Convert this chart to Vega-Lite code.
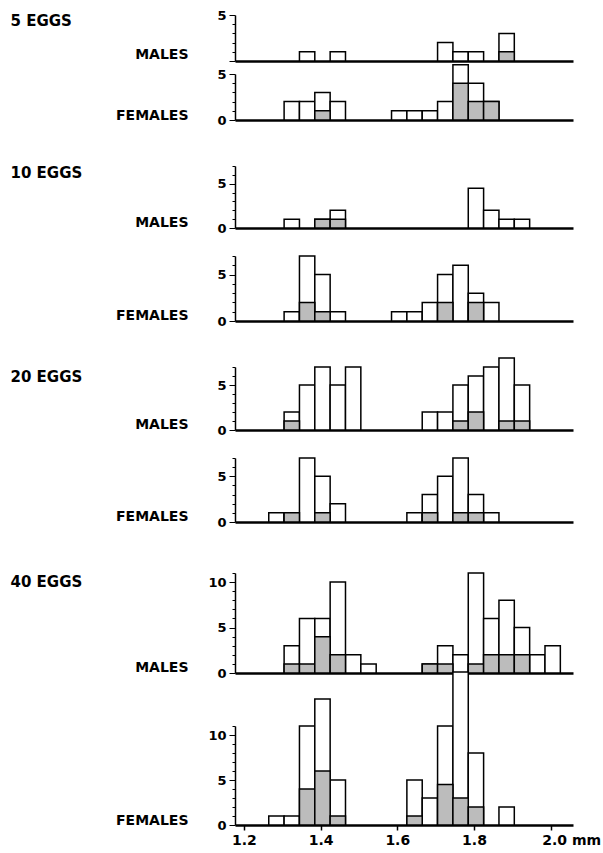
{
  "$schema": "https://vega.github.io/schema/vega-lite/v6.json",
  "padding": {"left": 10, "top": 9, "right": 2, "bottom": 2},
  "background": "white",
  "config": {
    "view": {"stroke": null},
    "font": "DejaVu Sans",
    "axis": {"grid": false, "domainColor": "black", "tickColor": "black", "labelColor": "black", "labelFont": "DejaVu Sans", "labelFontWeight": "bold", "labelFontSize": 13, "titleFont": "DejaVu Sans", "titleFontWeight": "bold", "titleFontSize": 14, "titleColor": "black"}
  },
  "datasets": {
    "h": [
      {"p": "5M", "lo": 1.345, "hi": 1.385, "n": 1, "s": 0},
      {"p": "5M", "lo": 1.425, "hi": 1.465, "n": 1, "s": 0},
      {"p": "5M", "lo": 1.705, "hi": 1.745, "n": 2, "s": 0},
      {"p": "5M", "lo": 1.745, "hi": 1.785, "n": 1, "s": 0},
      {"p": "5M", "lo": 1.785, "hi": 1.825, "n": 1, "s": 0},
      {"p": "5M", "lo": 1.865, "hi": 1.905, "n": 3, "s": 1},
      {"p": "5F", "lo": 1.305, "hi": 1.345, "n": 2, "s": 0},
      {"p": "5F", "lo": 1.345, "hi": 1.385, "n": 2, "s": 0},
      {"p": "5F", "lo": 1.385, "hi": 1.425, "n": 3, "s": 1},
      {"p": "5F", "lo": 1.425, "hi": 1.465, "n": 2, "s": 0},
      {"p": "5F", "lo": 1.585, "hi": 1.625, "n": 1, "s": 0},
      {"p": "5F", "lo": 1.625, "hi": 1.665, "n": 1, "s": 0},
      {"p": "5F", "lo": 1.665, "hi": 1.705, "n": 1, "s": 0},
      {"p": "5F", "lo": 1.705, "hi": 1.745, "n": 2, "s": 0},
      {"p": "5F", "lo": 1.745, "hi": 1.785, "n": 6, "s": 4},
      {"p": "5F", "lo": 1.785, "hi": 1.825, "n": 4, "s": 2},
      {"p": "5F", "lo": 1.825, "hi": 1.865, "n": 2, "s": 2},
      {"p": "10M", "lo": 1.305, "hi": 1.345, "n": 1, "s": 0},
      {"p": "10M", "lo": 1.385, "hi": 1.425, "n": 1, "s": 1},
      {"p": "10M", "lo": 1.425, "hi": 1.465, "n": 2, "s": 1},
      {"p": "10M", "lo": 1.785, "hi": 1.825, "n": 4.5, "s": 0},
      {"p": "10M", "lo": 1.825, "hi": 1.865, "n": 2, "s": 0},
      {"p": "10M", "lo": 1.865, "hi": 1.905, "n": 1, "s": 0},
      {"p": "10M", "lo": 1.905, "hi": 1.945, "n": 1, "s": 0},
      {"p": "10F", "lo": 1.305, "hi": 1.345, "n": 1, "s": 0},
      {"p": "10F", "lo": 1.345, "hi": 1.385, "n": 7, "s": 2},
      {"p": "10F", "lo": 1.385, "hi": 1.425, "n": 5, "s": 1},
      {"p": "10F", "lo": 1.425, "hi": 1.465, "n": 1, "s": 0},
      {"p": "10F", "lo": 1.585, "hi": 1.625, "n": 1, "s": 0},
      {"p": "10F", "lo": 1.625, "hi": 1.665, "n": 1, "s": 0},
      {"p": "10F", "lo": 1.665, "hi": 1.705, "n": 2, "s": 0},
      {"p": "10F", "lo": 1.705, "hi": 1.745, "n": 5, "s": 2},
      {"p": "10F", "lo": 1.745, "hi": 1.785, "n": 6, "s": 0},
      {"p": "10F", "lo": 1.785, "hi": 1.825, "n": 3, "s": 2},
      {"p": "10F", "lo": 1.825, "hi": 1.865, "n": 2, "s": 0},
      {"p": "20M", "lo": 1.305, "hi": 1.345, "n": 2, "s": 1},
      {"p": "20M", "lo": 1.345, "hi": 1.385, "n": 5, "s": 0},
      {"p": "20M", "lo": 1.385, "hi": 1.425, "n": 7, "s": 0},
      {"p": "20M", "lo": 1.425, "hi": 1.465, "n": 5, "s": 0},
      {"p": "20M", "lo": 1.465, "hi": 1.505, "n": 7, "s": 0},
      {"p": "20M", "lo": 1.665, "hi": 1.705, "n": 2, "s": 0},
      {"p": "20M", "lo": 1.705, "hi": 1.745, "n": 2, "s": 0},
      {"p": "20M", "lo": 1.745, "hi": 1.785, "n": 5, "s": 1},
      {"p": "20M", "lo": 1.785, "hi": 1.825, "n": 6, "s": 2},
      {"p": "20M", "lo": 1.825, "hi": 1.865, "n": 7, "s": 0},
      {"p": "20M", "lo": 1.865, "hi": 1.905, "n": 8, "s": 1},
      {"p": "20M", "lo": 1.905, "hi": 1.945, "n": 5, "s": 1},
      {"p": "20F", "lo": 1.265, "hi": 1.305, "n": 1, "s": 0},
      {"p": "20F", "lo": 1.305, "hi": 1.345, "n": 1, "s": 1},
      {"p": "20F", "lo": 1.345, "hi": 1.385, "n": 7, "s": 0},
      {"p": "20F", "lo": 1.385, "hi": 1.425, "n": 5, "s": 1},
      {"p": "20F", "lo": 1.425, "hi": 1.465, "n": 2, "s": 0},
      {"p": "20F", "lo": 1.625, "hi": 1.665, "n": 1, "s": 0},
      {"p": "20F", "lo": 1.665, "hi": 1.705, "n": 3, "s": 1},
      {"p": "20F", "lo": 1.705, "hi": 1.745, "n": 5, "s": 0},
      {"p": "20F", "lo": 1.745, "hi": 1.785, "n": 7, "s": 1},
      {"p": "20F", "lo": 1.785, "hi": 1.825, "n": 3, "s": 1},
      {"p": "20F", "lo": 1.825, "hi": 1.865, "n": 1, "s": 0},
      {"p": "40M", "lo": 1.305, "hi": 1.345, "n": 3, "s": 1},
      {"p": "40M", "lo": 1.345, "hi": 1.385, "n": 6, "s": 1},
      {"p": "40M", "lo": 1.385, "hi": 1.425, "n": 6, "s": 4},
      {"p": "40M", "lo": 1.425, "hi": 1.465, "n": 10, "s": 2},
      {"p": "40M", "lo": 1.465, "hi": 1.505, "n": 2, "s": 0},
      {"p": "40M", "lo": 1.505, "hi": 1.545, "n": 1, "s": 0},
      {"p": "40M", "lo": 1.665, "hi": 1.705, "n": 1, "s": 1},
      {"p": "40M", "lo": 1.705, "hi": 1.745, "n": 3, "s": 1},
      {"p": "40M", "lo": 1.745, "hi": 1.785, "n": 2, "s": 0},
      {"p": "40M", "lo": 1.785, "hi": 1.825, "n": 11, "s": 1},
      {"p": "40M", "lo": 1.825, "hi": 1.865, "n": 6, "s": 2},
      {"p": "40M", "lo": 1.865, "hi": 1.905, "n": 8, "s": 2},
      {"p": "40M", "lo": 1.905, "hi": 1.945, "n": 5, "s": 2},
      {"p": "40M", "lo": 1.945, "hi": 1.985, "n": 2, "s": 0},
      {"p": "40M", "lo": 1.985, "hi": 2.025, "n": 3, "s": 0},
      {"p": "40F", "lo": 1.265, "hi": 1.305, "n": 1, "s": 0},
      {"p": "40F", "lo": 1.305, "hi": 1.345, "n": 1, "s": 0},
      {"p": "40F", "lo": 1.345, "hi": 1.385, "n": 11, "s": 4},
      {"p": "40F", "lo": 1.385, "hi": 1.425, "n": 14, "s": 6},
      {"p": "40F", "lo": 1.425, "hi": 1.465, "n": 5, "s": 1},
      {"p": "40F", "lo": 1.625, "hi": 1.665, "n": 5, "s": 1},
      {"p": "40F", "lo": 1.665, "hi": 1.705, "n": 3, "s": 0},
      {"p": "40F", "lo": 1.705, "hi": 1.745, "n": 11, "s": 4.5},
      {"p": "40F", "lo": 1.745, "hi": 1.785, "n": 17, "s": 3},
      {"p": "40F", "lo": 1.785, "hi": 1.825, "n": 8, "s": 2},
      {"p": "40F", "lo": 1.865, "hi": 1.905, "n": 2, "s": 0}
    ]
  },
  "spacing": 29,
  "vconcat": [
    {
      "spacing": 38,
      "vconcat": [
        {
          "spacing": 13,
          "bounds": "flush",
          "vconcat": [
            {
              "width": 338, "height": 46,
              "data": {"name": "h"},
              "transform": [{"filter": "datum.p == '5M'"}],
              "encoding": {
                "x": {"field": "lo", "type": "quantitative", "scale": {"domain": [1.177, 2.058], "nice": false, "zero": false}, "axis": {"labels": false, "ticks": false, "title": null, "domainWidth": 2.5}},
                "x2": {"field": "hi"},
                "y": {"field": "n", "type": "quantitative", "scale": {"domain": [0, 5], "nice": false}, "axis": {"values": [0, 1, 2, 3, 4, 5], "labelExpr": "datum.value == 5 ? '5' : ''", "tickSize": {"condition": {"test": "datum.value % 5 == 0", "value": 6}, "value": 3}, "labelPadding": 3, "domainWidth": 1.5, "title": "MALES", "titleAngle": 0, "titleAlign": "right", "titleBaseline": "alphabetic", "titleX": -47, "titleY": 43}},
                "y2": {"datum": 0}
              },
              "resolve": {"axis": {"y": "independent"}},
              "layer": [
                {"mark": {"type": "bar", "fill": "white", "stroke": "black", "strokeWidth": 1.5}},
                {"transform": [{"filter": "datum.s > 0"}],
                 "mark": {"type": "bar", "fill": "#bcbcbc", "stroke": "black", "strokeWidth": 1.5},
                 "encoding": {"y": {"field": "s", "type": "quantitative", "axis": {"orient": "left", "title": "5 EGGS", "domain": false, "ticks": false, "labels": false, "titleAngle": 0, "titleAlign": "left", "titleBaseline": "middle", "titleFontSize": 15, "titleX": -225, "titleY": 5}}}}
              ]
            },
            {
              "width": 338, "height": 46,
              "data": {"name": "h"},
              "transform": [{"filter": "datum.p == '5F'"}],
              "encoding": {
                "x": {"field": "lo", "type": "quantitative", "scale": {"domain": [1.177, 2.058], "nice": false, "zero": false}, "axis": {"labels": false, "ticks": false, "title": null, "domainWidth": 2.5}},
                "x2": {"field": "hi"},
                "y": {"field": "n", "type": "quantitative", "scale": {"domain": [0, 5], "nice": false}, "axis": {"values": [0, 1, 2, 3, 4, 5], "labelExpr": "datum.value % 5 == 0 ? datum.label : ''", "tickSize": {"condition": {"test": "datum.value % 5 == 0", "value": 6}, "value": 3}, "labelPadding": 3, "domainWidth": 1.5, "title": "FEMALES", "titleAngle": 0, "titleAlign": "right", "titleBaseline": "alphabetic", "titleX": -47, "titleY": 45}},
                "y2": {"datum": 0}
              },
              "layer": [
                {"mark": {"type": "bar", "fill": "white", "stroke": "black", "strokeWidth": 1.5}},
                {"transform": [{"filter": "datum.s > 0"}],
                 "mark": {"type": "bar", "fill": "#bcbcbc", "stroke": "black", "strokeWidth": 1.5},
                 "encoding": {"y": {"field": "s", "type": "quantitative"}}}
              ]
            }
          ]
        },
        {
          "spacing": 28,
          "bounds": "flush",
          "vconcat": [
            {
              "width": 338, "height": 62,
              "data": {"name": "h"},
              "transform": [{"filter": "datum.p == '10M'"}],
              "encoding": {
                "x": {"field": "lo", "type": "quantitative", "scale": {"domain": [1.177, 2.058], "nice": false, "zero": false}, "axis": {"labels": false, "ticks": false, "title": null, "domainWidth": 2.5}},
                "x2": {"field": "hi"},
                "y": {"field": "n", "type": "quantitative", "scale": {"domain": [0, 7], "nice": false}, "axis": {"values": [0, 1, 2, 3, 4, 5, 6, 7], "labelExpr": "datum.value % 5 == 0 ? datum.label : ''", "tickSize": {"condition": {"test": "datum.value % 5 == 0", "value": 6}, "value": 3}, "labelPadding": 3, "domainWidth": 1.5, "title": "MALES", "titleAngle": 0, "titleAlign": "right", "titleBaseline": "alphabetic", "titleX": -47, "titleY": 60}},
                "y2": {"datum": 0}
              },
              "resolve": {"axis": {"y": "independent"}},
              "layer": [
                {"mark": {"type": "bar", "fill": "white", "stroke": "black", "strokeWidth": 1.5}},
                {"transform": [{"filter": "datum.s > 0"}],
                 "mark": {"type": "bar", "fill": "#bcbcbc", "stroke": "black", "strokeWidth": 1.5},
                 "encoding": {"y": {"field": "s", "type": "quantitative", "axis": {"orient": "left", "title": "10 EGGS", "domain": false, "ticks": false, "labels": false, "titleAngle": 0, "titleAlign": "left", "titleBaseline": "middle", "titleFontSize": 15, "titleX": -225, "titleY": 6}}}}
              ]
            },
            {
              "width": 338, "height": 65,
              "data": {"name": "h"},
              "transform": [{"filter": "datum.p == '10F'"}],
              "encoding": {
                "x": {"field": "lo", "type": "quantitative", "scale": {"domain": [1.177, 2.058], "nice": false, "zero": false}, "axis": {"labels": false, "ticks": false, "title": null, "domainWidth": 2.5}},
                "x2": {"field": "hi"},
                "y": {"field": "n", "type": "quantitative", "scale": {"domain": [0, 7], "nice": false}, "axis": {"values": [0, 1, 2, 3, 4, 5, 6, 7], "labelExpr": "datum.value % 5 == 0 ? datum.label : ''", "tickSize": {"condition": {"test": "datum.value % 5 == 0", "value": 6}, "value": 3}, "labelPadding": 3, "domainWidth": 1.5, "title": "FEMALES", "titleAngle": 0, "titleAlign": "right", "titleBaseline": "alphabetic", "titleX": -47, "titleY": 63}},
                "y2": {"datum": 0}
              },
              "layer": [
                {"mark": {"type": "bar", "fill": "white", "stroke": "black", "strokeWidth": 1.5}},
                {"transform": [{"filter": "datum.s > 0"}],
                 "mark": {"type": "bar", "fill": "#bcbcbc", "stroke": "black", "strokeWidth": 1.5},
                 "encoding": {"y": {"field": "s", "type": "quantitative"}}}
              ]
            }
          ]
        }
      ]
    },
    {
      "spacing": 43,
      "vconcat": [
        {
          "spacing": 28,
          "bounds": "flush",
          "vconcat": [
            {
              "width": 338, "height": 63,
              "data": {"name": "h"},
              "transform": [{"filter": "datum.p == '20M'"}],
              "encoding": {
                "x": {"field": "lo", "type": "quantitative", "scale": {"domain": [1.177, 2.058], "nice": false, "zero": false}, "axis": {"labels": false, "ticks": false, "title": null, "domainWidth": 2.5}},
                "x2": {"field": "hi"},
                "y": {"field": "n", "type": "quantitative", "scale": {"domain": [0, 7], "nice": false}, "axis": {"values": [0, 1, 2, 3, 4, 5, 6, 7], "labelExpr": "datum.value % 5 == 0 ? datum.label : ''", "tickSize": {"condition": {"test": "datum.value % 5 == 0", "value": 6}, "value": 3}, "labelPadding": 3, "domainWidth": 1.5, "title": "MALES", "titleAngle": 0, "titleAlign": "right", "titleBaseline": "alphabetic", "titleX": -47, "titleY": 61}},
                "y2": {"datum": 0}
              },
              "resolve": {"axis": {"y": "independent"}},
              "layer": [
                {"mark": {"type": "bar", "fill": "white", "stroke": "black", "strokeWidth": 1.5}},
                {"transform": [{"filter": "datum.s > 0"}],
                 "mark": {"type": "bar", "fill": "#bcbcbc", "stroke": "black", "strokeWidth": 1.5},
                 "encoding": {"y": {"field": "s", "type": "quantitative", "axis": {"orient": "left", "title": "20 EGGS", "domain": false, "ticks": false, "labels": false, "titleAngle": 0, "titleAlign": "left", "titleBaseline": "middle", "titleFontSize": 15, "titleX": -225, "titleY": 9}}}}
              ]
            },
            {
              "width": 338, "height": 64,
              "data": {"name": "h"},
              "transform": [{"filter": "datum.p == '20F'"}],
              "encoding": {
                "x": {"field": "lo", "type": "quantitative", "scale": {"domain": [1.177, 2.058], "nice": false, "zero": false}, "axis": {"labels": false, "ticks": false, "title": null, "domainWidth": 2.5}},
                "x2": {"field": "hi"},
                "y": {"field": "n", "type": "quantitative", "scale": {"domain": [0, 7], "nice": false}, "axis": {"values": [0, 1, 2, 3, 4, 5, 6, 7], "labelExpr": "datum.value % 5 == 0 ? datum.label : ''", "tickSize": {"condition": {"test": "datum.value % 5 == 0", "value": 6}, "value": 3}, "labelPadding": 3, "domainWidth": 1.5, "title": "FEMALES", "titleAngle": 0, "titleAlign": "right", "titleBaseline": "alphabetic", "titleX": -47, "titleY": 62}},
                "y2": {"datum": 0}
              },
              "layer": [
                {"mark": {"type": "bar", "fill": "white", "stroke": "black", "strokeWidth": 1.5}},
                {"transform": [{"filter": "datum.s > 0"}],
                 "mark": {"type": "bar", "fill": "#bcbcbc", "stroke": "black", "strokeWidth": 1.5},
                 "encoding": {"y": {"field": "s", "type": "quantitative"}}}
              ]
            }
          ]
        },
        {
          "spacing": 53,
          "bounds": "flush",
          "vconcat": [
            {
              "width": 338, "height": 100,
              "data": {"name": "h"},
              "transform": [{"filter": "datum.p == '40M'"}],
              "encoding": {
                "x": {"field": "lo", "type": "quantitative", "scale": {"domain": [1.177, 2.058], "nice": false, "zero": false}, "axis": {"labels": false, "ticks": false, "title": null, "domainWidth": 2.5}},
                "x2": {"field": "hi"},
                "y": {"field": "n", "type": "quantitative", "scale": {"domain": [0, 11], "nice": false}, "axis": {"values": [0, 1, 2, 3, 4, 5, 6, 7, 8, 9, 10, 11], "labelExpr": "datum.value % 5 == 0 ? datum.label : ''", "tickSize": {"condition": {"test": "datum.value % 5 == 0", "value": 6}, "value": 3}, "labelPadding": 3, "domainWidth": 1.5, "title": "MALES", "titleAngle": 0, "titleAlign": "right", "titleBaseline": "alphabetic", "titleX": -47, "titleY": 98}},
                "y2": {"datum": 0}
              },
              "resolve": {"axis": {"y": "independent"}},
              "layer": [
                {"mark": {"type": "bar", "fill": "white", "stroke": "black", "strokeWidth": 1.5}},
                {"transform": [{"filter": "datum.s > 0"}],
                 "mark": {"type": "bar", "fill": "#bcbcbc", "stroke": "black", "strokeWidth": 1.5},
                 "encoding": {"y": {"field": "s", "type": "quantitative", "axis": {"orient": "left", "title": "40 EGGS", "domain": false, "ticks": false, "labels": false, "titleAngle": 0, "titleAlign": "left", "titleBaseline": "middle", "titleFontSize": 15, "titleX": -225, "titleY": 8}}}}
              ]
            },
            {
              "width": 338, "height": 99,
              "data": {"name": "h"},
              "transform": [{"filter": "datum.p == '40F'"}],
              "encoding": {
                "x": {"field": "lo", "type": "quantitative", "scale": {"domain": [1.177, 2.058], "nice": false, "zero": false}, "axis": {"values": [1.2, 1.4, 1.6, 1.8, 2.0], "title": null, "domainWidth": 2.5, "tickSize": 5, "tickWidth": 1.5, "labelPadding": 3, "labelFontSize": 14, "labelExpr": "datum.value == 2 ? '2.0 mm' : format(datum.value, '.1f')", "labelAlign": {"condition": {"test": "datum.value == 2", "value": "left"}, "value": "center"}, "labelOffset": {"condition": {"test": "datum.value == 2", "value": -9}, "value": 0}}},
                "x2": {"field": "hi"},
                "y": {"field": "n", "type": "quantitative", "scale": {"domain": [0, 11], "nice": false}, "axis": {"values": [0, 1, 2, 3, 4, 5, 6, 7, 8, 9, 10, 11], "labelExpr": "datum.value % 5 == 0 ? datum.label : ''", "tickSize": {"condition": {"test": "datum.value % 5 == 0", "value": 6}, "value": 3}, "labelPadding": 3, "domainWidth": 1.5, "title": "FEMALES", "titleAngle": 0, "titleAlign": "right", "titleBaseline": "alphabetic", "titleX": -47, "titleY": 98}},
                "y2": {"datum": 0}
              },
              "layer": [
                {"mark": {"type": "bar", "fill": "white", "stroke": "black", "strokeWidth": 1.5}},
                {"transform": [{"filter": "datum.s > 0"}],
                 "mark": {"type": "bar", "fill": "#bcbcbc", "stroke": "black", "strokeWidth": 1.5},
                 "encoding": {"y": {"field": "s", "type": "quantitative"}}}
              ]
            }
          ]
        }
      ]
    }
  ]
}
